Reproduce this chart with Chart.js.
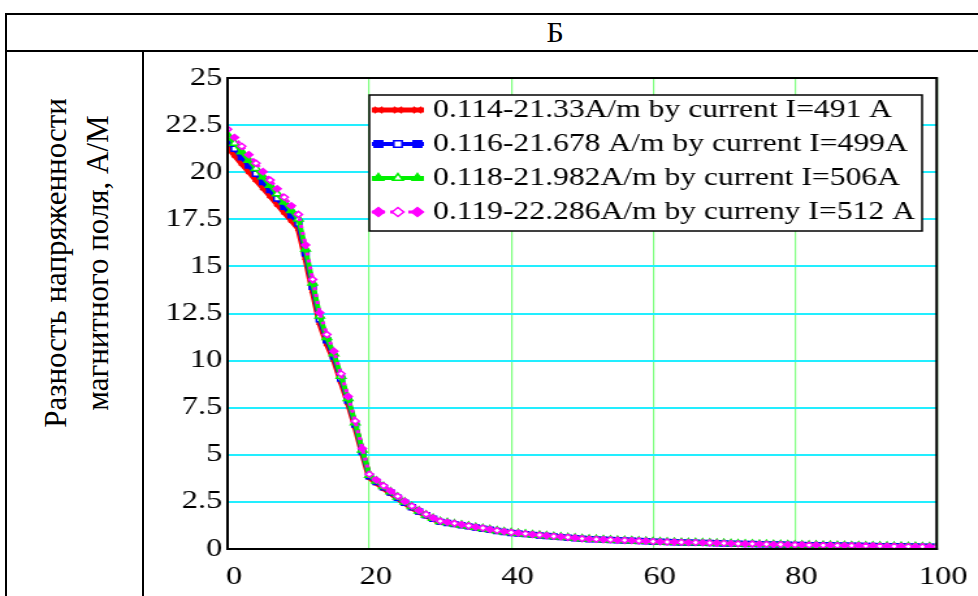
<!DOCTYPE html>
<html>
<head>
<meta charset="utf-8">
<script src="https://cdn.jsdelivr.net/npm/chart.js@4/dist/chart.umd.min.js"></script>
<style>
  body { margin:0; width:978px; height:596px; overflow:hidden; background:#fff; font-family:"Liberation Serif", serif; }
  .frame { position:absolute; left:5px; top:13px; width:1100px; height:700px; border:2px solid #000; box-sizing:border-box; }
  .head { position:absolute; left:5px; top:13px; width:1100px; height:39px; border-bottom:2px solid #000; box-sizing:border-box; }
  .head span { position:absolute; left:550px; top:2px; transform:translateX(-50%); font-size:30px; line-height:34px; }
  .divider { position:absolute; left:142px; top:50px; width:2px; height:560px; background:#000; }
  .ylabel { position:absolute; left:77px; top:263px; transform:translate(-50%,-50%) rotate(-90deg); white-space:nowrap; text-align:center; font-size:31px; line-height:42px; }
  /* the Mathcad picture in the source is stretched sideways, so the canvas is too */
  #chartBox { position:absolute; left:143px; top:50px; width:642px; height:546px; transform:scaleX(1.3006); transform-origin:0 0; }
</style>
</head>
<body>
<div class="frame"></div>
<div class="head"><span>Б</span></div>
<div class="divider"></div>
<div class="ylabel">Разность напряженности<br>магнитного поля, А/М</div>
<div id="chartBox"><canvas id="chart" width="642" height="546"></canvas></div>
<script>
document.addEventListener('DOMContentLoaded', () => {

  // ----- DATA -----
  const xValues = [];
  for (let i = 0; i <= 100; i++) xValues.push(i);

  const seriesLabels = [
    '0.114-21.33A/m by current I=491 A',
    '0.116-21.678 A/m by current I=499A',
    '0.118-21.982A/m by current I=506A',
    '0.119-22.286A/m by curreny I=512 A'
  ];

  const red = [
    21.33,20.90,20.46,20.03,19.60,19.17,18.74,18.30,17.87,17.44,
    17.00,15.45,13.70,12.00,10.90,10.05,8.90,7.75,6.50,5.10,
    3.80,3.50,3.22,2.95,2.68,2.42,2.18,1.96,1.76,1.58,
    1.42,1.36,1.30,1.24,1.18,1.12,1.06,1.00,0.94,0.89,
    0.84,0.81,0.78,0.74,0.71,0.68,0.65,0.62,0.59,0.56,
    0.53,0.51,0.50,0.48,0.47,0.45,0.44,0.43,0.41,0.40,
    0.38,0.37,0.36,0.35,0.34,0.33,0.33,0.32,0.31,0.30,
    0.29,0.28,0.27,0.26,0.26,0.25,0.24,0.23,0.23,0.22,
    0.21,0.21,0.20,0.20,0.19,0.19,0.18,0.18,0.17,0.17,
    0.16,0.16,0.15,0.15,0.14,0.14,0.13,0.13,0.12,0.12,
    0.114
  ];
  const blue = [
    21.678,21.24,20.79,20.36,19.92,19.48,19.05,18.60,18.16,17.72,
    17.28,15.70,13.92,12.20,11.08,10.21,9.05,7.88,6.61,5.18,
    3.86,3.56,3.27,3.00,2.72,2.46,2.22,1.99,1.79,1.61,
    1.44,1.38,1.32,1.26,1.20,1.14,1.08,1.02,0.96,0.90,
    0.85,0.82,0.79,0.75,0.72,0.69,0.66,0.63,0.60,0.57,
    0.54,0.52,0.51,0.49,0.48,0.46,0.45,0.44,0.42,0.41,
    0.39,0.38,0.37,0.36,0.35,0.34,0.335,0.325,0.315,0.305,
    0.295,0.285,0.275,0.265,0.265,0.255,0.245,0.235,0.235,0.225,
    0.215,0.215,0.205,0.205,0.195,0.195,0.185,0.185,0.175,0.175,
    0.163,0.163,0.153,0.153,0.143,0.143,0.133,0.133,0.122,0.122,
    0.116
  ];
  const green = [
    21.982,21.54,21.09,20.64,20.20,19.76,19.31,18.86,18.42,17.97,
    17.52,15.92,14.12,12.37,11.23,10.36,9.17,7.99,6.70,5.26,
    3.92,3.61,3.32,3.04,2.76,2.49,2.25,2.02,1.81,1.63,
    1.46,1.40,1.34,1.28,1.22,1.15,1.09,1.03,0.97,0.92,
    0.87,0.83,0.80,0.76,0.73,0.70,0.67,0.64,0.61,0.58,
    0.55,0.526,0.515,0.495,0.484,0.464,0.453,0.443,0.423,0.412,
    0.392,0.381,0.371,0.361,0.350,0.340,0.340,0.330,0.319,0.309,
    0.299,0.289,0.278,0.268,0.268,0.258,0.247,0.237,0.237,0.227,
    0.216,0.216,0.206,0.206,0.196,0.196,0.186,0.186,0.175,0.175,
    0.165,0.165,0.155,0.155,0.144,0.144,0.134,0.134,0.124,0.124,
    0.118
  ];
  const magenta = [
    22.286,21.84,21.38,20.93,20.48,20.03,19.58,19.12,18.67,18.22,
    17.76,16.14,14.31,12.54,11.39,10.50,9.30,8.10,6.79,5.33,
    3.97,3.66,3.36,3.08,2.80,2.53,2.28,2.05,1.84,1.65,
    1.48,1.42,1.36,1.30,1.23,1.17,1.11,1.04,0.98,0.93,
    0.88,0.85,0.81,0.77,0.74,0.71,0.68,0.65,0.62,0.59,
    0.55,0.53,0.52,0.50,0.49,0.47,0.46,0.45,0.43,0.42,
    0.40,0.387,0.376,0.366,0.355,0.345,0.345,0.334,0.324,0.313,
    0.303,0.293,0.282,0.272,0.272,0.261,0.251,0.240,0.240,0.230,
    0.219,0.219,0.209,0.209,0.199,0.199,0.188,0.188,0.178,0.178,
    0.167,0.167,0.157,0.157,0.146,0.146,0.136,0.136,0.125,0.125,
    0.119
  ];

  const xTicks = [0, 20, 40, 60, 80, 100];
  const yTicks = [0, 2.5, 5, 7.5, 10, 12.5, 15, 17.5, 20, 22.5, 25];

  const toPoints = ys => xValues.map((x, i) => ({ x, y: ys[i] }));

  // ----- LEGEND (boxed, inside the plot) + plot frame -----
  const boxLegend = {
    id: 'boxLegend',
    afterDraw(chart) {
      const ctx = chart.ctx;
      const a = chart.chartArea;
      ctx.save();
      ctx.strokeStyle = '#000';
      ctx.lineWidth = 2;
      ctx.strokeRect(a.left, a.top, a.right - a.left, a.bottom - a.top);

      const bx = 174, by = 45, bw = 425, bh = 136;
      ctx.fillStyle = '#fff';
      ctx.fillRect(bx, by, bw, bh);
      ctx.lineWidth = 1.5;
      ctx.strokeRect(bx, by, bw, bh);

      ctx.font = '24.3px "Liberation Serif"';
      ctx.textBaseline = 'middle';
      chart.data.datasets.forEach((ds, i) => {
        const y = by + 15 + i * 34;
        const x0 = bx + 2, x1 = bx + 42;
        ctx.save();
        ctx.strokeStyle = ds.borderColor;
        ctx.lineWidth = ds.borderWidth;
        ctx.setLineDash(ds.borderDash || []);
        ctx.beginPath(); ctx.moveTo(x0, y); ctx.lineTo(x1, y); ctx.stroke();
        ctx.setLineDash([]);
        [x0 + 5, x0 + 20, x0 + 35].forEach((px, k) => {
          ctx.fillStyle = (k % 2 === 0) ? ds.borderColor : '#fff';
          ctx.strokeStyle = ds.borderColor;
          ctx.lineWidth = 1.5;
          Chart.helpers.drawPoint(ctx, { pointStyle: ds.pointStyle, radius: 4.5, borderWidth: 1.5 }, px, y);
        });
        ctx.restore();
        ctx.fillStyle = '#000';
        ctx.fillText(ds.label, bx + 49, y + 1);
      });
      ctx.restore();
    }
  };

  const tickFont = { family: 'Liberation Serif', size: 25 };

  const ctx = document.getElementById('chart').getContext('2d');
  new Chart(ctx, {
    type: 'line',
    data: {
      datasets: [
        { label: seriesLabels[0], data: toPoints(red), borderColor: '#ff0000', backgroundColor: '#ff0000',
          borderWidth: 5, pointStyle: 'crossRot', pointRadius: 3, pointBorderWidth: 2, order: 4 },
        { label: seriesLabels[1], data: toPoints(blue), borderColor: '#0000ff',
          backgroundColor: c => c.dataIndex % 3 === 1 ? '#ffffff' : '#0000ff',
          borderWidth: 4, pointStyle: 'rect', pointRadius: 3.5, pointBorderWidth: 1.5, order: 3 },
        { label: seriesLabels[2], data: toPoints(green), borderColor: '#00f000',
          backgroundColor: c => c.dataIndex % 3 === 1 ? '#ffffff' : '#00f000',
          borderWidth: 4, pointStyle: 'triangle', pointRadius: 4, pointBorderWidth: 1.5, order: 2 },
        { label: seriesLabels[3], data: toPoints(magenta), borderColor: '#ff00ff',
          backgroundColor: c => c.dataIndex % 2 === 0 ? '#ffffff' : '#ff00ff',
          borderWidth: 3, borderDash: [3, 4], pointStyle: 'rectRot', pointRadius: 3, pointBorderWidth: 1.5, order: 1 }
      ]
    },
    options: {
      responsive: false,
      animation: false,
      layout: { padding: { top: 28, right: 31, left: 0, bottom: 0 } },
      plugins: { legend: { display: false }, tooltip: { enabled: false } },
      scales: {
        x: {
          type: 'linear', min: 0, max: 100,
          afterBuildTicks: s => { s.ticks = xTicks.map(v => ({ value: v })); },
          afterFit: s => { s.height = 47; },
          grid: { color: '#80ff80', lineWidth: 1.2, drawTicks: false },
          border: { color: '#222', width: 2 },
          ticks: { color: '#000', padding: 13, labelOffset: 5, maxRotation: 0, font: tickFont }
        },
        y: {
          min: 0, max: 25,
          afterBuildTicks: s => { s.ticks = yTicks.map(v => ({ value: v })); },
          afterFit: s => { s.width = 65; },
          grid: { color: '#22eeff', lineWidth: 2, drawTicks: false },
          border: { color: '#222', width: 2 },
          ticks: { color: '#000', padding: 4, font: tickFont }
        }
      }
    },
    plugins: [boxLegend]
  });

});
</script>
</body>
</html>
